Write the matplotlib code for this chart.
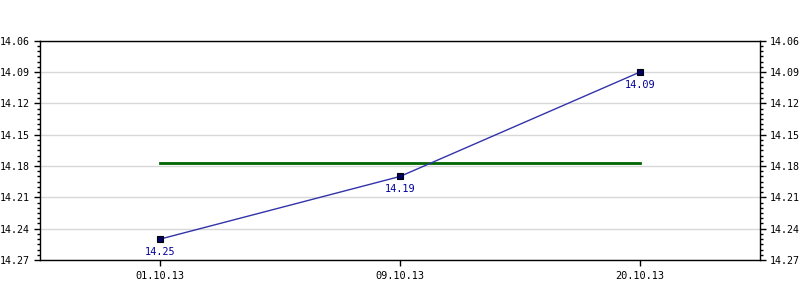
import matplotlib
matplotlib.use("Agg")
import matplotlib.pyplot as plt
from matplotlib.ticker import FixedLocator

dates = ["01.10.13", "09.10.13", "20.10.13"]
values = [14.25, 14.19, 14.09]
avg_value = sum(values) / len(values)
y_ticks = [14.06, 14.09, 14.12, 14.15, 14.18, 14.21, 14.24, 14.27]
y_min, y_max = 14.06, 14.27

plt.rcParams['font.family'] = ['DejaVu Sans Mono']

fig = plt.figure(figsize=(8, 3), dpi=100)
ax = fig.add_axes([0.05, 0.1333, 0.90, 0.7310])

x = list(range(len(dates)))
ax.plot([x[0], x[-1]], [avg_value, avg_value], color="#006600", lw=2, zorder=2)
ax.plot(x, values, color="#3333aa", lw=1, marker="s", markersize=4.5,
        markerfacecolor="#000066", markeredgecolor="#000000", markeredgewidth=0.8, zorder=3)
for xi, v in zip(x, values):
    ax.annotate(f"{v:.2f}", (xi, v), xytext=(0, -9), textcoords="offset points",
                ha="center", va="center", color="#000099", fontsize=7.4)

ax.set_xlim(-0.5, len(dates) - 0.5)
ax.set_ylim(y_max, y_min)
ax.set_xticks(x)
ax.set_xticklabels(dates)
ax.yaxis.set_major_locator(FixedLocator(y_ticks))
ax.set_yticklabels([f"{t:.2f}" for t in y_ticks])
minor = [y_ticks[0] + i * 0.005 for i in range(int(round((y_max - y_min) / 0.005)) + 1)]
ax.yaxis.set_minor_locator(FixedLocator(minor))
ax.grid(axis="y", which="major", color="#d8d8d8", lw=1)
ax.set_axisbelow(True)

ax.tick_params(axis="y", which="major", direction="out", length=4.2, width=1,
               left=True, right=True, labelleft=True, labelright=True,
               labelsize=7.2, pad=2.8, colors="#000000")
ax.tick_params(axis="y", which="minor", direction="out", length=2.2, width=1,
               left=True, right=True)
ax.tick_params(axis="x", which="major", direction="out", length=4.2, width=1,
               labelsize=7.4, pad=4)
for s in ax.spines.values():
    s.set_color("#000000")
    s.set_linewidth(1)

fig.savefig("out.png", dpi=100)
